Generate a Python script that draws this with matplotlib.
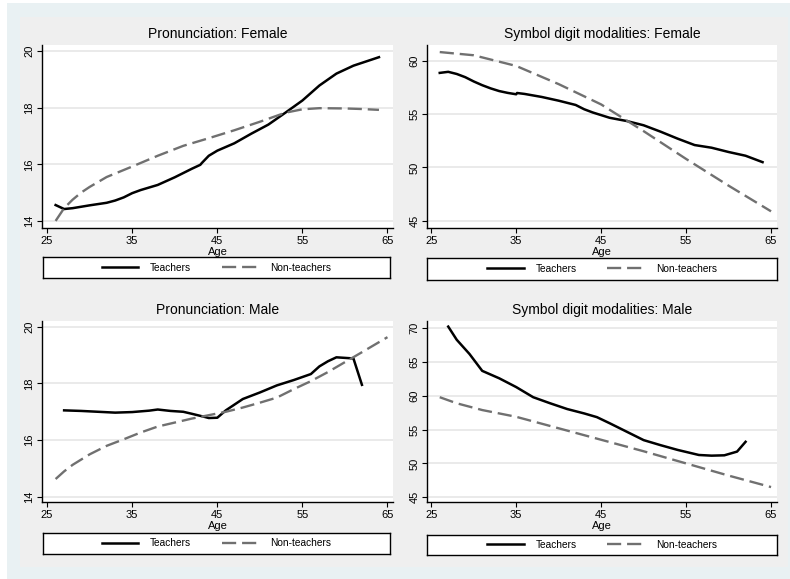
import matplotlib.pyplot as plt
from matplotlib.patches import Rectangle

plt.rcParams['font.family'] = ['Liberation Sans', 'DejaVu Sans']

W, H = 790, 579

age_ticks = [25, 35, 45, 55, 65]

# Pronunciation: Female
pf_t_age = [26, 27, 28, 30, 32, 33, 34, 35, 36, 38, 40, 42, 43, 43.2, 44, 45, 47, 49, 51, 53, 55, 57, 59, 61, 62, 64]
pf_t_val = [14.56, 14.42, 14.45, 14.55, 14.64, 14.72, 14.83, 14.98, 15.09, 15.27, 15.54, 15.84, 15.98, 16.05,
            16.3, 16.48, 16.74, 17.08, 17.4, 17.82, 18.25, 18.78, 19.2, 19.48, 19.58, 19.78]
pf_n_age = [26, 27, 28, 29, 30, 32, 35, 38, 41, 44, 47, 50, 53, 55, 57, 60, 62, 64]
pf_n_val = [14.0, 14.45, 14.75, 15.0, 15.2, 15.55, 15.92, 16.3, 16.65, 16.92, 17.2, 17.5, 17.82, 17.94,
            17.98, 17.97, 17.95, 17.92]

# Symbol digit modalities: Female
sf_t_age = [26, 27, 28, 29, 30, 31, 32, 33, 34, 35, 35.1, 36, 38, 40, 42, 43, 44, 46, 48, 50, 52, 54, 56,
            58, 60, 62, 64]
sf_t_val = [58.85, 58.95, 58.75, 58.45, 58.05, 57.7, 57.4, 57.15, 56.98, 56.85, 56.97, 56.88, 56.6, 56.25,
            55.85, 55.45, 55.15, 54.65, 54.35, 53.95, 53.35, 52.7, 52.1, 51.85, 51.45, 51.1, 50.5]
sf_n_age = [26, 30, 35, 40, 45, 50, 55, 60, 65]
sf_n_val = [60.8, 60.5, 59.5, 57.8, 55.9, 53.4, 50.8, 48.3, 45.9]

# Pronunciation: Male
pm_t_age = [27, 29, 31, 33, 35, 37, 38, 39.5, 41, 42, 43.5, 44, 45, 46, 47, 48, 50, 52, 54, 56, 57, 58, 59,
            61, 62]
pm_t_val = [17.05, 17.03, 17.0, 16.97, 16.99, 17.04, 17.08, 17.03, 17.0, 16.93, 16.82, 16.78, 16.79, 17.05,
            17.25, 17.45, 17.68, 17.93, 18.12, 18.33, 18.6, 18.78, 18.92, 18.88, 17.95]
pm_n_age = [26, 27, 28, 30, 32, 34, 36, 38, 40, 42, 44, 46, 48, 50, 52, 54, 56, 58, 60, 62, 65]
pm_n_val = [14.63, 14.9, 15.13, 15.5, 15.8, 16.03, 16.27, 16.48, 16.62, 16.76, 16.88, 17.0, 17.15, 17.32,
            17.5, 17.8, 18.08, 18.4, 18.75, 19.1, 19.63]

# Symbol digit modalities: Male
sm_t_age = [27, 28, 29.5, 31, 33, 35, 37, 39, 41, 43, 44.5, 46, 48, 50, 52, 54, 56, 56.5, 58, 59.5, 61, 62]
sm_t_val = [70.25, 68.3, 66.2, 63.7, 62.6, 61.3, 59.8, 58.9, 58.05, 57.4, 56.85, 55.95, 54.7, 53.45, 52.7,
            52.0, 51.4, 51.25, 51.15, 51.2, 51.75, 53.2]
sm_n_age = [26, 28, 31, 35, 40, 45, 50, 55, 60, 65]
sm_n_val = [59.8, 58.9, 57.9, 56.9, 55.2, 53.5, 51.8, 50.0, 48.2, 46.5]


def box(x0, y0, x1, y1):
    # pixel rectangle (top-left origin) -> figure fraction
    return [x0 / W, 1 - y1 / H, (x1 - x0) / W, (y1 - y0) / H]


fig = plt.figure(figsize=(W / 100, H / 100), dpi=100, facecolor='white')
fig.patches.append(Rectangle((7 / W, 0), (W - 7) / W, (H - 3) / H, transform=fig.transFigure,
                             facecolor='#e9f1f3', edgecolor='none', zorder=-3))
fig.patches.append(Rectangle((20 / W, 1 - 567 / H), 768 / W, 550 / H, transform=fig.transFigure,
                             facecolor='#efefef', edgecolor='none', zorder=-2))


def panel(ax_px, leg_px, title, yticks, ylim, xlim, t_age, t_val, n_age, n_val):
    ax = fig.add_axes(box(*ax_px))
    ax.set_facecolor('white')
    t_line, = ax.plot(t_age, t_val, color='black', lw=1.8, solid_joinstyle='round')
    n_line, = ax.plot(n_age, n_val, color='#707070', lw=1.7, dashes=(6, 2.5))
    ax.set_xlim(xlim)
    ax.set_ylim(ylim)
    ax.set_xticks(age_ticks)
    ax.set_yticks(yticks)
    ax.grid(axis='y', color='#e6e6e6', lw=1.2)
    ax.set_axisbelow(True)
    for s in ['top', 'right']:
        ax.spines[s].set_visible(False)
    for s in ['left', 'bottom']:
        ax.spines[s].set_linewidth(1.0)
    ax.tick_params(labelsize=8, length=3.5, width=0.8, pad=2)
    plt.setp(ax.get_yticklabels(), rotation=90, va='center')
    ax.set_title(title, fontsize=10, pad=5)
    ax.set_xlabel('Age', fontsize=8, labelpad=1)

    lax = fig.add_axes(box(*leg_px))
    lax.set_facecolor('white')
    lax.set_xticks([])
    lax.set_yticks([])
    for s in lax.spines.values():
        s.set_linewidth(1.0)
    lax.legend([t_line, n_line], ['Teachers', 'Non-teachers'], loc='center', ncol=2, frameon=False,
               fontsize=7.3, handlelength=3.6, handletextpad=1.2, columnspacing=3.0)


panel((42, 45, 393, 228), (43, 257, 390, 278), 'Pronunciation: Female', [14, 16, 18, 20],
      (13.75, 20.21), (24.4, 65.65), pf_t_age, pf_t_val, pf_n_age, pf_n_val)
panel((427, 45, 777, 228), (427, 258, 777, 280), 'Symbol digit modalities: Female', [45, 50, 55, 60],
      (44.34, 61.46), (24.5, 65.7), sf_t_age, sf_t_val, sf_n_age, sf_n_val)
panel((42, 321, 393, 502), (43, 533, 390, 554), 'Pronunciation: Male', [14, 16, 18, 20],
      (13.82, 20.2), (24.4, 65.65), pm_t_age, pm_t_val, pm_n_age, pm_n_val)
panel((427, 321, 777, 502), (427, 535, 777, 555), 'Symbol digit modalities: Male', [45, 50, 55, 60, 65, 70],
      (44.29, 71.08), (24.5, 65.7), sm_t_age, sm_t_val, sm_n_age, sm_n_val)

fig.savefig('out.png', dpi=100, facecolor=fig.get_facecolor())
